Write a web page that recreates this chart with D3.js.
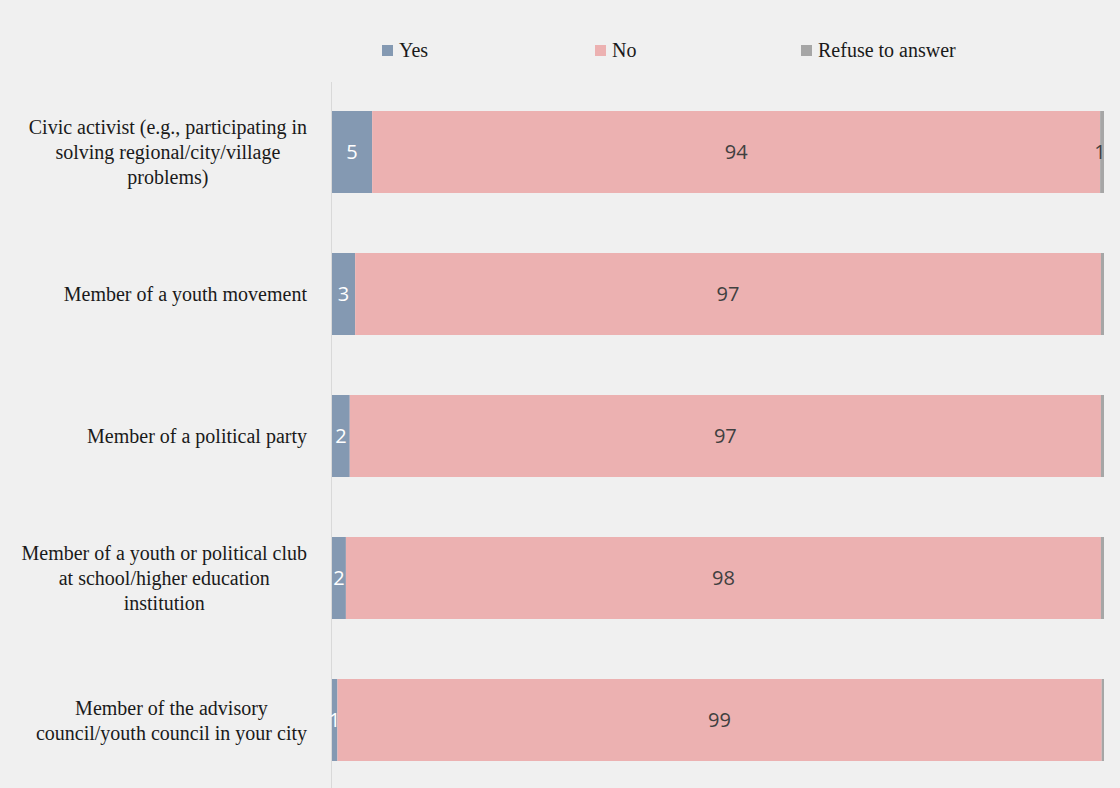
<!DOCTYPE html>
<html>
<head>
<meta charset="utf-8">
<script src="https://cdn.jsdelivr.net/npm/d3@7/dist/d3.min.js"></script>
<style>
  html, body { margin: 0; padding: 0; background: #f0f0f0; }
  svg { display: block; }
</style>
</head>
<body>
<svg id="chart" width="1120" height="788"></svg>
<script>
// Civic / political involvement, shares of respondents (%)
const categories = [
  ["Civic activist (e.g., participating in", "solving regional/city/village", "problems)"],
  ["Member of a youth movement"],
  ["Member of a political party"],
  ["Member of a youth or political club", "at school/higher education", "institution"],
  ["Member of the advisory", "council/youth council in your city"]
];
const seriesNames = ["Yes", "No", "Refuse to answer"];
const yesValues     = [5.2, 3.0, 2.3, 1.8, 0.7];
const noValues      = [94.3, 96.6, 97.3, 97.8, 99.0];
const refuseValues  = [0.5, 0.4, 0.4, 0.4, 0.3];

const colors = ["#8499b2", "#ecb1b1", "#a6a6a6"];
const labelColors = ["#ffffff", "#404040", "#404040"];

const svg = d3.select("#chart");
const W = 1120, H = 788;
const margin = { left: 332, top: 82 };

const rows = categories.map((c, i) => ({
  idx: i,
  lines: c,
  vals: [yesValues[i], noValues[i], refuseValues[i]]
}));

const x = d3.scaleLinear().domain([0, 100]).range([margin.left, 1104]);
const y = d3.scaleBand()
  .domain(rows.map(r => r.idx))
  .range([81, 791])
  .paddingInner(0.4225)
  .paddingOuter(0.21125);

// vertical category axis line
svg.append("line")
  .attr("x1", margin.left - 0.5).attr("x2", margin.left - 0.5)
  .attr("y1", margin.top).attr("y2", H)
  .attr("stroke", "#d9d9d9").attr("stroke-width", 1);

// stacked segments
const stack = d3.stack().keys([0, 1, 2])(rows.map(r => r.vals));
const layers = svg.append("g").selectAll("g")
  .data(stack)
  .join("g")
  .attr("fill", (d, k) => colors[k]);

layers.selectAll("rect")
  .data((d, k) => d.map((s, i) => ({ s, i, k })))
  .join("rect")
  .attr("x", d => x(d.s[0]))
  .attr("width", d => x(d.s[1]) - x(d.s[0]))
  .attr("y", d => y(d.i))
  .attr("height", y.bandwidth());

// value labels
const fmt = d3.format(".0f");
layers.selectAll("text")
  .data((d, k) => d.map((s, i) => ({ s, i, k, v: s[1] - s[0] })).filter(d => d.v >= 0.5))
  .join("text")
  .attr("x", d => (x(d.s[0]) + x(d.s[1])) / 2 - (d.k === 2 ? 2 : 0))
  .attr("y", d => y(d.i) + y.bandwidth() / 2)
  .attr("dy", "0.36em")
  .attr("text-anchor", "middle")
  .attr("fill", d => labelColors[d.k])
  .style("font-family", "'Open Sans', 'Noto Sans', sans-serif")
  .style("font-size", "20px")
  .text(d => fmt(d.v));

// category labels: lines centred within a block right-aligned to the axis
const serif = "'Liberation Serif', 'Times New Roman', serif";
const ctx = document.createElement("canvas").getContext("2d");
ctx.font = "20px " + serif;
const labelRight = 307, lineH = 25;
const catG = svg.append("g")
  .style("font-family", serif)
  .style("font-size", "20px")
  .attr("fill", "#1a1a1a");
rows.forEach(r => {
  const maxW = d3.max(r.lines, l => ctx.measureText(l).width);
  const cx = labelRight - maxW / 2;
  const cy = y(r.idx) + y.bandwidth() / 2;
  const n = r.lines.length;
  r.lines.forEach((l, j) => {
    catG.append("text")
      .attr("x", cx)
      .attr("y", cy + (j - (n - 1) / 2) * lineH)
      .attr("dy", "0.35em")
      .attr("text-anchor", "middle")
      .text(l);
  });
});

// legend
const legendX = [382, 595, 801];
const leg = svg.append("g")
  .style("font-family", serif)
  .style("font-size", "20px")
  .attr("fill", "#1a1a1a");
seriesNames.forEach((name, k) => {
  leg.append("rect")
    .attr("x", legendX[k]).attr("y", 45)
    .attr("width", 11).attr("height", 11)
    .attr("fill", colors[k]);
  leg.append("text")
    .attr("x", legendX[k] + 17).attr("y", 50)
    .attr("dy", "0.35em")
    .text(name);
});
</script>
</body>
</html>
